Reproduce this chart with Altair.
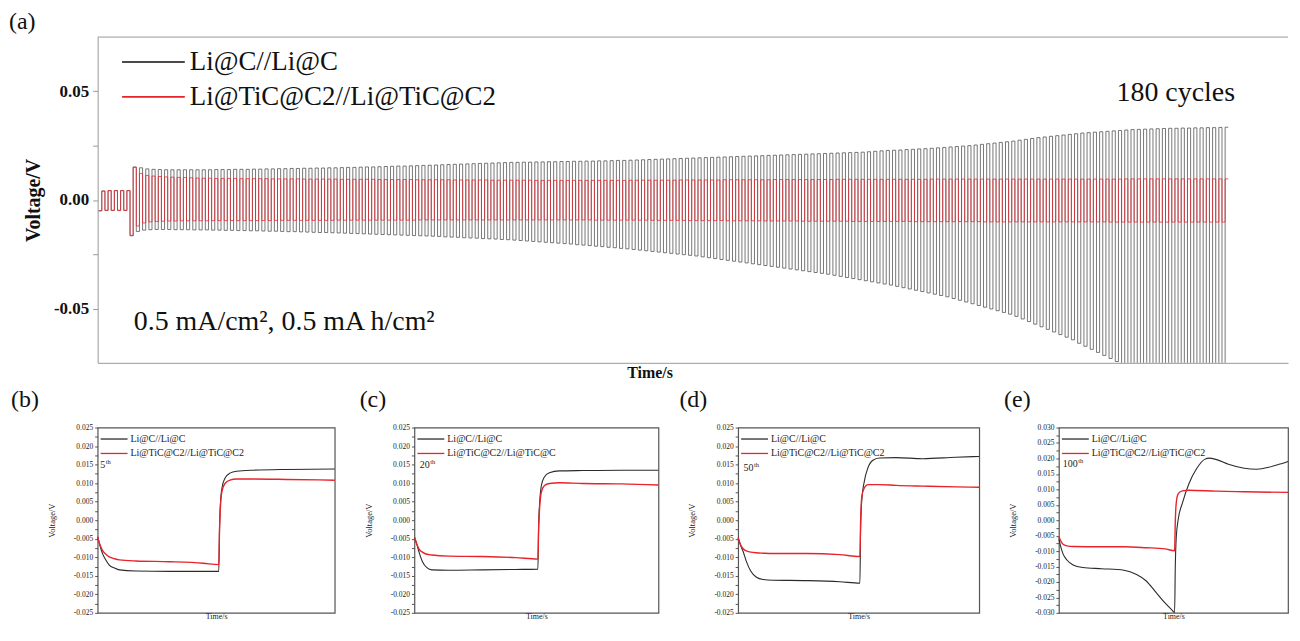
import altair as alt
import pandas as pd

FONT = "Liberation Serif"
BLACK = "#4a4a4a"
PBLACK = "#2b2b2b"
RED = "#e8232b"

SERIES = ["Li@C//Li@C", "Li@TiC@C2//Li@TiC@C2"]
SERIES_C = ["Li@C//Li@C", "Li@TiC@C2//Li@TiC@C"]

# ---------------- (a) long-term cycling: plateau voltages per cycle (mV) ----------------
warmup_hi_mV = [4.1, 4.3, 4.3, 4.3, 4.3]
warmup_lo_mV = [-5.0, -4.8, -4.8, -4.8, -4.8]

black_hi_mV = [
    15.2, 14.8, 14.3, 14.1, 14.0, 13.9, 13.9, 13.9, 13.9, 13.9, 13.9,
    13.9, 13.9, 14.0, 14.0, 14.0, 14.1, 14.1, 14.1, 14.2, 14.2,
    14.3, 14.3, 14.4, 14.4, 14.5, 14.5, 14.6, 14.6, 14.7, 14.7,
    14.8, 14.8, 14.9, 15.0, 15.0, 15.1, 15.2, 15.2, 15.3, 15.4,
    15.5, 15.6, 15.6, 15.7, 15.8, 15.9, 16.0, 16.1, 16.2, 16.3,
    16.4, 16.5, 16.6, 16.7, 16.8, 16.9, 17.0, 17.1, 17.2, 17.3,
    17.3, 17.4, 17.4, 17.5, 17.5, 17.6, 17.6, 17.7, 17.7, 17.8,
    17.8, 17.9, 17.9, 18.0, 18.0, 18.1, 18.2, 18.2, 18.3, 18.4,
    18.5, 18.6, 18.7, 18.8, 18.9, 19.0, 19.1, 19.2, 19.3, 19.4,
    19.5, 19.6, 19.7, 19.8, 19.9, 20.0, 20.1, 20.2, 20.3, 20.4,
    20.5, 20.6, 20.7, 20.8, 20.9, 21.0, 21.1, 21.2, 21.3, 21.4,
    21.5, 21.6, 21.7, 21.8, 21.9, 22.0, 22.2, 22.4, 22.6, 22.8,
    22.9, 23.0, 23.2, 23.3, 23.5, 23.6, 23.8, 24.0, 24.2, 24.4,
    24.6, 24.8, 25.0, 25.3, 25.6, 25.9, 26.2, 26.5, 26.8, 27.1,
    27.5, 27.9, 28.3, 28.7, 29.0, 29.3, 29.6, 29.9, 30.2, 30.5,
    30.8, 31.0, 31.2, 31.4, 31.6, 31.8, 32.0, 32.2, 32.4, 32.5,
    32.6, 32.7, 32.8, 32.9, 33.0, 33.0, 33.1, 33.1, 33.2, 33.2,
    33.3, 33.3, 33.4, 33.5,
]
black_lo_mV = [
    -16.5, -14.5, -13.9, -13.7, -13.6, -13.6, -13.6, -13.7, -13.7, -13.7, -13.8,
    -13.8, -13.8, -13.9, -13.9, -14.0, -14.0, -14.1, -14.1, -14.2, -14.2,
    -14.3, -14.4, -14.4, -14.5, -14.6, -14.6, -14.7, -14.8, -14.9, -15.0,
    -15.0, -15.1, -15.2, -15.3, -15.4, -15.5, -15.6, -15.7, -15.8, -15.9,
    -16.0, -16.1, -16.2, -16.3, -16.4, -16.5, -16.6, -16.7, -16.8, -17.0,
    -17.1, -17.2, -17.4, -17.5, -17.6, -17.8, -17.9, -18.0, -18.2, -18.3,
    -18.5, -18.7, -18.9, -19.1, -19.3, -19.5, -19.7, -19.9, -20.1, -20.3,
    -20.6, -20.8, -21.0, -21.3, -21.5, -21.8, -22.0, -22.3, -22.5, -22.8,
    -23.1, -23.4, -23.7, -24.0, -24.3, -24.6, -24.9, -25.2, -25.5, -25.8,
    -26.2, -26.6, -27.0, -27.4, -27.8, -28.2, -28.6, -29.0, -29.4, -29.8,
    -30.2, -30.6, -31.0, -31.4, -31.8, -32.2, -32.6, -33.0, -33.4, -33.8,
    -34.2, -34.7, -35.2, -35.7, -36.2, -36.7, -37.2, -37.7, -38.2, -38.7,
    -39.2, -39.8, -40.4, -41.0, -41.6, -42.2, -42.8, -43.4, -44.0, -44.6,
    -45.4, -46.2, -47.0, -47.8, -48.6, -49.4, -50.2, -51.0, -51.8, -52.6,
    -53.6, -54.8, -56.0, -57.2, -58.4, -59.6, -60.8, -62.0, -63.2, -64.4,
    -66.0, -67.4, -68.8, -70.2, -71.6, -73.0, -74.4, -75.8, -77.2, -78.6,
    -80.0, -81.4, -82.8, -84.2, -85.6, -87.0, -88.4, -89.8, -91.2, -92.6,
    -94.0, -95.4, -96.8, -98.2,
]
red_hi_mV = [
    15.0, 12.2, 11.3, 11.0, 10.8, 10.6, 10.5, 10.4, 10.3, 10.2, 10.1,
    10.0, 10.0, 9.9, 9.9, 9.9, 9.9, 9.8, 9.8, 9.8, 9.8,
    9.8, 9.7, 9.7, 9.7, 9.7, 9.7, 9.6, 9.6, 9.6, 9.6,
    9.6, 9.6, 9.5, 9.5, 9.5, 9.5, 9.5, 9.5, 9.4, 9.4,
    9.4, 9.4, 9.4, 9.4, 9.3, 9.3, 9.3, 9.3, 9.3, 9.3,
    9.2, 9.2, 9.2, 9.2, 9.2, 9.2, 9.1, 9.1, 9.1, 9.1,
    9.1, 9.1, 9.1, 9.0, 9.0, 9.0, 9.0, 9.0, 9.0, 9.0,
    9.0, 9.0, 9.0, 9.0, 9.0, 9.0, 9.0, 9.0, 9.1, 9.1,
    9.1, 9.1, 9.1, 9.1, 9.1, 9.1, 9.2, 9.2, 9.2, 9.2,
    9.2, 9.2, 9.2, 9.3, 9.3, 9.3, 9.3, 9.3, 9.3, 9.3,
    9.3, 9.4, 9.4, 9.4, 9.4, 9.4, 9.4, 9.4, 9.4, 9.4,
    9.4, 9.5, 9.5, 9.5, 9.5, 9.5, 9.5, 9.5, 9.5, 9.5,
    9.5, 9.5, 9.5, 9.5, 9.5, 9.5, 9.6, 9.6, 9.6, 9.6,
    9.6, 9.6, 9.6, 9.6, 9.6, 9.6, 9.6, 9.6, 9.6, 9.6,
    9.6, 9.6, 9.6, 9.6, 9.6, 9.6, 9.6, 9.6, 9.6, 9.6,
    9.6, 9.6, 9.6, 9.6, 9.6, 9.6, 9.6, 9.7, 9.7, 9.7,
    9.7, 9.7, 9.7, 9.7, 9.7, 9.7, 9.7, 9.7, 9.7, 9.7,
    9.7, 9.7, 9.7, 9.7,
]
red_lo_mV = [
    -16.3, -12.0, -10.6, -10.1, -9.9, -9.8, -9.7, -9.7, -9.6, -9.6, -9.6,
    -9.6, -9.6, -9.5, -9.5, -9.5, -9.5, -9.5, -9.5, -9.5, -9.5,
    -9.5, -9.5, -9.4, -9.4, -9.4, -9.4, -9.4, -9.4, -9.4, -9.4,
    -9.4, -9.4, -9.3, -9.3, -9.3, -9.3, -9.3, -9.3, -9.3, -9.3,
    -9.3, -9.3, -9.3, -9.3, -9.3, -9.2, -9.2, -9.2, -9.2, -9.2,
    -9.2, -9.2, -9.2, -9.2, -9.2, -9.2, -9.2, -9.2, -9.2, -9.2,
    -9.2, -9.2, -9.2, -9.2, -9.2, -9.2, -9.2, -9.2, -9.2, -9.2,
    -9.2, -9.2, -9.2, -9.3, -9.3, -9.3, -9.3, -9.3, -9.3, -9.3,
    -9.3, -9.3, -9.4, -9.4, -9.4, -9.4, -9.4, -9.4, -9.5, -9.5,
    -9.5, -9.5, -9.5, -9.5, -9.6, -9.6, -9.6, -9.6, -9.6, -9.6,
    -9.7, -9.7, -9.7, -9.7, -9.7, -9.7, -9.8, -9.8, -9.8, -9.8,
    -9.8, -9.8, -9.8, -9.8, -9.9, -9.9, -9.9, -9.9, -9.9, -9.9,
    -9.9, -9.9, -9.9, -9.9, -10.0, -10.0, -10.0, -10.0, -10.0, -10.0,
    -10.0, -10.0, -10.0, -10.0, -10.0, -10.1, -10.1, -10.1, -10.1, -10.1,
    -10.1, -10.1, -10.1, -10.1, -10.1, -10.1, -10.1, -10.1, -10.1, -10.1,
    -10.1, -10.1, -10.1, -10.1, -10.1, -10.2, -10.2, -10.2, -10.2, -10.2,
    -10.2, -10.2, -10.2, -10.2, -10.2, -10.2, -10.2, -10.2, -10.2, -10.2,
    -10.2, -10.2, -10.2, -10.2,
]

main_notes = ["0.5 mA/cm², 0.5 mA h/cm²", "180 cycles"]
main_note_t = [5.6, 162.2]
main_note_v = [-0.0601, 0.0455]
main_y_domain = [-0.075, 0.075]
main_y_ticks = [-0.05, -0.025, 0.0, 0.025, 0.05]

# ---------------- (b)-(e) single cycles (t in % of cycle, V in mV) ----------------
b_t = [0, 1.0, 2.1, 3.5, 4.9, 7.1, 9.2, 16.2, 30.4, 44.5, 51.1, 51.4, 51.8, 52.5, 53.7, 55.8, 58.6, 65.7, 79.8, 100]
b_black = [-4.5, -6.9, -9.1, -10.8, -12.1, -12.9, -13.4, -13.7, -13.8, -13.8, -13.8, -2.2, 4.6, 8.9, 11.3, 12.7, 13.2, 13.5, 13.7, 13.8]
b_red = [-4.5, -6.7, -8.2, -9.2, -9.9, -10.4, -10.7, -11.0, -11.2, -11.6, -12.0, -3.1, 3.8, 8.0, 9.9, 10.8, 11.1, 11.1, 11.0, 10.8]

c_t = [0, 1.0, 1.9, 3.3, 5.1, 7.2, 14.0, 27.8, 41.5, 50.6, 50.9, 51.3, 52.0, 53.2, 55.3, 59.4, 69.0, 85.0, 100]
c_black = [-4.6, -6.5, -8.6, -11.2, -12.8, -13.4, -13.5, -13.4, -13.3, -13.2, -1.4, 4.6, 9.3, 11.6, 12.8, 13.3, 13.4, 13.5, 13.5]
c_red = [-4.6, -6.5, -7.8, -8.6, -9.2, -9.4, -9.7, -9.8, -10.1, -10.5, -2.2, 3.3, 7.6, 9.3, 9.9, 10.1, 9.9, 9.8, 9.5]

d_t = [0, 1.0, 2.1, 3.4, 5.2, 7.6, 10.3, 14.5, 28.3, 42.1, 50.5, 50.8, 51.3, 52.4, 53.8, 55.9, 58.6, 65.5, 76.6, 90.3, 100]
d_black = [-4.7, -6.8, -8.5, -11.1, -13.7, -15.4, -16.0, -16.2, -16.3, -16.6, -17.0, -2.1, 5.5, 10.7, 14.1, 16.2, 16.8, 16.9, 16.6, 17.0, 17.2]
d_red = [-4.7, -6.6, -7.7, -8.3, -8.6, -8.8, -8.9, -9.0, -9.0, -9.3, -9.8, -0.4, 6.4, 8.8, 9.6, 9.6, 9.6, 9.4, 9.2, 9.0, 8.9]

e_t_black = [0, 0.7, 1.8, 3.5, 6.2, 10.4, 18.7, 28.4, 33.9, 38.0, 42.2, 46.3, 49.1, 50.5, 50.8, 51.2, 52.1, 53.9, 56.7, 60.2, 63.6, 65.7, 68.5, 74.0, 80.9, 86.4, 92.0, 96.1, 98.9, 100]
e_black = [-6.0, -8.3, -10.9, -12.9, -14.5, -15.3, -15.7, -16.2, -17.6, -19.6, -23.2, -26.8, -28.9, -29.9, -15.0, -5.8, 0.4, 5.5, 11.7, 16.8, 19.7, 20.1, 19.7, 18.1, 16.8, 16.5, 17.2, 18.1, 18.7, 19.0]
e_t_red = [0, 0.7, 1.8, 3.5, 6.2, 18.7, 28.4, 38.0, 46.3, 50.5, 50.8, 51.2, 52.1, 53.9, 56.7, 68.5, 80.9, 100]
e_red = [-5.2, -6.6, -7.8, -8.3, -8.5, -8.6, -8.6, -8.9, -9.3, -9.9, -0.6, 5.5, 8.6, 9.5, 9.7, 9.4, 9.2, 9.0]

panel_labels = ["(b)", "(c)", "(d)", "(e)"]
cycle_numbers = ["5", "20", "50", "100"]
cycle_num_t = [1.1, 2.2, 2.2, 1.7]
cycle_num_v = [0.0141, 0.0141, 0.0134, 0.0171]


def cycle_frame(hi_mV, lo_mV, series):
    rows = []
    n = 0
    for k, (hi, lo) in enumerate(zip(hi_mV, lo_mV)):
        for t, v in ((k, lo), (k + 0.5, lo), (k + 0.5, hi), (k + 1, hi)):
            rows.append({"t": t, "v": v / 1000.0, "series": series, "i": n})
            n += 1
    return pd.DataFrame(rows)


def curve_frame(t, mv, series):
    return pd.DataFrame({"t": t, "v": [m / 1000.0 for m in mv], "series": series,
                         "i": list(range(len(t)))})


def label_expr(scale, step):
    return ("abs(round(datum.value * %d)) %% %d == 0 ? replace(datum.label, '\u2212', '-') : ''"
            % (scale, step))


# ---------------- main chart ----------------
main_black = cycle_frame(warmup_hi_mV + black_hi_mV, warmup_lo_mV + black_lo_mV, SERIES[0])
main_red = cycle_frame(warmup_hi_mV + red_hi_mV, warmup_lo_mV + red_lo_mV, SERIES[1])
notes_df = pd.DataFrame({"t": main_note_t, "v": main_note_v, "label": main_notes})
frame_df = pd.DataFrame({"v": [main_y_domain[1]]})

x_main = alt.Scale(domain=[-0.16, 189.52], nice=False, zero=False)
y_main = alt.Scale(domain=main_y_domain, nice=False, zero=False)
c_main = alt.Scale(domain=SERIES, range=[BLACK, RED])

main_legend = alt.Legend(orient="none", legendX=42.5, legendY=11.5, title=None,
                         symbolType="M-3,0H3", symbolSize=441, symbolStrokeWidth=1.8,
                         labelFont=FONT, labelFontSize=27, labelColor="#111",
                         labelOffset=23, rowPadding=7, padding=0, labelLimit=700)

main_yaxis = alt.Axis(
    values=main_y_ticks, format=".2f", labelExpr=label_expr(1000, 50), grid=False,
    tickSize=5, tickColor="#999", domainColor="#999", labelPadding=4, labelFont=FONT,
    labelFontSize=17, labelFontWeight="bold", labelColor="#111", title="Voltage/V",
    titleFont=FONT, titleFontSize=20, titleFontWeight="bold", titleColor="#111",
    titlePadding=10,
)
main_xaxis = alt.Axis(labels=False, ticks=False, grid=False,
                      domainColor="#999", title="Time/s", titleFont=FONT, titleFontSize=16,
                      titleFontWeight="bold", titleColor="#111", titleX=554, titlePadding=2)
X_MAIN = alt.X("t:Q", scale=x_main, axis=main_xaxis)
Y_MAIN = alt.Y("v:Q", scale=y_main, axis=main_yaxis)


def main_layer(df):
    return alt.Chart(df).mark_line(strokeWidth=0.75, clip=True).encode(
        x=X_MAIN, y=Y_MAIN,
        color=alt.Color("series:N", scale=c_main, legend=main_legend),
        order="i:Q",
    )


black_layer = main_layer(main_black)
red_layer = main_layer(main_red)
notes_layer = alt.Chart(notes_df).mark_text(align="left", baseline="alphabetic", font=FONT,
                                            fontSize=28, color="#111").encode(
    x=X_MAIN, y=Y_MAIN, text="label:N")
top_frame = alt.Chart(frame_df).mark_rule(color="#999", strokeWidth=1).encode(y=Y_MAIN)

main = alt.layer(black_layer, red_layer, notes_layer, top_frame).properties(
    width=1195, height=327,
    title=alt.TitleParams("(a)", anchor="start", frame="group", dx=-89, dy=27.8,
                          offset=11, baseline="alphabetic", fontSize=24, font=FONT,
                          fontWeight="normal", color="#111"),
    view=alt.ViewBackground(stroke="transparent"),
)


# ---------------- panels ----------------
def panel(tb, vb, tr, vr, labels, ydom, label, num, num_t, num_v, th_dx, width, dx):
    dfb = curve_frame(tb, vb, labels[0])
    dfr = curve_frame(tr, vr, labels[1])
    xs = alt.Scale(domain=[0, 100], nice=False, zero=False)
    ys = alt.Scale(domain=ydom, nice=False, zero=False)
    cs = alt.Scale(domain=labels, range=[PBLACK, RED])
    nstep = int(round((ydom[1] - ydom[0]) / 0.0025))
    tick_vals = [round(ydom[0] + 0.0025 * k, 5) for k in range(nstep + 1)]
    leg = alt.Legend(orient="none", legendX=11, legendY=6.0, title=None,
                     symbolType="M-3,0H3", symbolSize=81, symbolStrokeWidth=1.3,
                     labelFont=FONT, labelFontSize=10, labelColor="#222",
                     labelOffset=11, rowPadding=3.5, padding=0, labelLimit=400)
    xaxis = alt.Axis(labels=False, ticks=False, domain=False, grid=False, title="Time/s",
                     titleFont=FONT, titleFontSize=8, titleFontWeight="normal",
                     titleColor="#222", titlePadding=0)
    yaxis = alt.Axis(values=tick_vals, format=".3f", labelExpr=label_expr(10000, 50),
                     grid=False, domain=False, tickSize=3, tickColor="#555", labelPadding=2,
                     labelFont=FONT, labelFontSize=7.5, labelColor="#222",
                     title="Voltage/V", titleFont=FONT, titleFontSize=8.5,
                     titleFontWeight="normal", titleColor="#222", titlePadding=17)
    enc = dict(x=alt.X("t:Q", scale=xs, axis=xaxis), y=alt.Y("v:Q", scale=ys, axis=yaxis))
    lb = alt.Chart(dfb).mark_line(strokeWidth=1.1, interpolate="monotone").encode(
        color=alt.Color("series:N", scale=cs, legend=leg), order="i:Q", **enc)
    lr = alt.Chart(dfr).mark_line(strokeWidth=1.4, interpolate="monotone").encode(
        color=alt.Color("series:N", scale=cs, legend=leg), order="i:Q", **enc)
    ndf = pd.DataFrame({"t": [num_t], "v": [num_v], "num": [num], "sup": ["th"]})
    ntext = alt.Chart(ndf).mark_text(align="left", baseline="alphabetic", font=FONT,
                                     fontSize=10, color="#222").encode(text="num:N", **enc)
    stext = alt.Chart(ndf).mark_text(align="left", baseline="alphabetic", font=FONT,
                                     fontSize=6.5, color="#222", dx=th_dx, dy=-4).encode(
        text="sup:N", **enc)
    return alt.layer(lb, lr, ntext, stext).properties(
        width=width, height=186,
        title=alt.TitleParams(label, anchor="start", frame="group", dx=dx, dy=26.5,
                              offset=19, baseline="alphabetic", fontSize=24, font=FONT,
                              fontWeight="normal", color="#111"),
        view=alt.ViewBackground(stroke="#555", strokeWidth=1.2),
    )


pb = panel(b_t, b_black, b_t, b_red, SERIES, [-0.025, 0.025], panel_labels[0],
           cycle_numbers[0], cycle_num_t[0], cycle_num_v[0], 5.5, 238, -87)
pc = panel(c_t, c_black, c_t, c_red, SERIES_C, [-0.025, 0.025], panel_labels[1],
           cycle_numbers[1], cycle_num_t[1], cycle_num_v[1], 10.5, 245, -55)
pd_ = panel(d_t, d_black, d_t, d_red, SERIES, [-0.025, 0.025], panel_labels[2],
            cycle_numbers[2], cycle_num_t[2], cycle_num_v[2], 10.5, 242, -59)
pe = panel(e_t_black, e_black, e_t_red, e_red, SERIES, [-0.030, 0.030], panel_labels[3],
           cycle_numbers[3], cycle_num_t[3], cycle_num_v[3], 15.5, 230, -55)

row = alt.hconcat(pb, pc, pd_, pe, spacing=80, bounds="flush").resolve_scale(
    color="independent").resolve_legend(color="independent")

chart = alt.vconcat(main, row, spacing=65, bounds="flush").resolve_scale(
    color="independent").resolve_legend(color="independent").properties(
    padding=0, background="white").configure(font=FONT)

chart.save("out.html", embed_options={"renderer": "svg", "actions": False})
